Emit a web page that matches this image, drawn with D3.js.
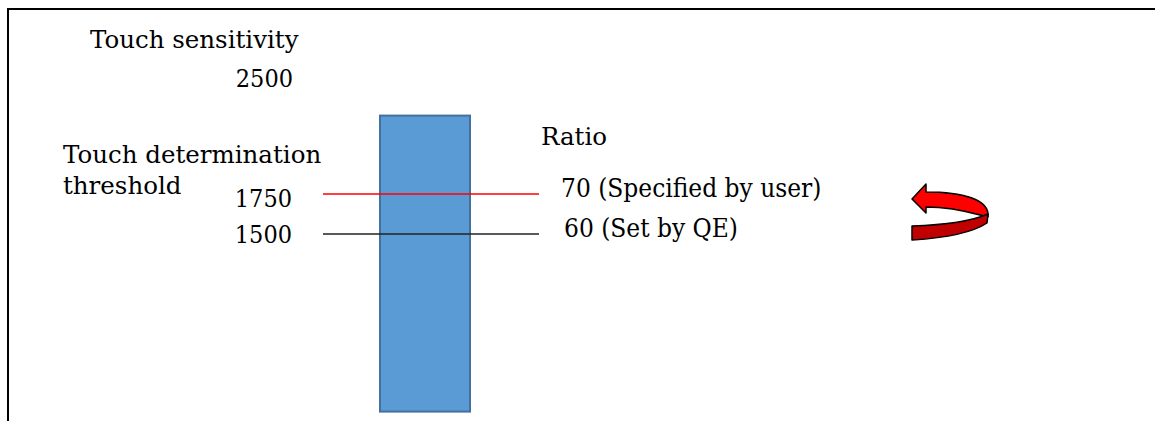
<!DOCTYPE html>
<html lang="en">
<head>
<meta charset="UTF-8">
<title>Touch sensitivity</title>
<script src="https://d3js.org/d3.v7.min.js"></script>
<style>
  body { margin: 0; background: #fff; }
  svg text { font-family: "DejaVu Serif", serif; font-size: 24.5px; fill: #000; }
  svg text.val { font-family: "DejaVu Serif Condensed", "DejaVu Serif", serif; font-stretch: condensed; font-size: 25px; }
  svg text.ratio { font-family: "DejaVu Serif Condensed", "DejaVu Serif", serif; font-stretch: condensed; font-size: 26px; }
</style>
</head>
<body>
<div id="chart"></div>
<script>
// values
const thresholds = [1750, 1500];
const thresholdColors = ["#ff0000", "#222222"];
const ratioLabels = ["70 (Specified by user)", "60 (Set by QE)"];
const sensitivityMax = 2500;
const barRange = [390, 2240];

const width = 1155, height = 421;

const svg = d3.select("#chart")
    .append("svg")
    .attr("width", width)
    .attr("height", height);

// frame (only top and left edges visible)
svg.append("path")
    .attr("d", "M8,421 V9 H1155")
    .attr("fill", "none")
    .attr("stroke", "#000")
    .attr("stroke-width", 2);

const y = d3.scaleLinear()
    .domain([1500, 1750])
    .range([234, 194]);

// bar
svg.append("rect")
    .attr("x", 380)
    .attr("width", 90)
    .attr("y", y(barRange[1]))
    .attr("height", y(barRange[0]) - y(barRange[1]))
    .attr("fill", "#5b9bd5")
    .attr("stroke", "#41719c")
    .attr("stroke-width", 2);

// threshold lines
svg.selectAll(".thr")
    .data(thresholds)
    .enter()
    .append("line")
    .attr("class", "thr")
    .attr("x1", 323)
    .attr("x2", 539)
    .attr("y1", d => y(d))
    .attr("y2", d => y(d))
    .attr("stroke", (d, i) => thresholdColors[i])
    .attr("stroke-width", 1.3);

// value labels on the left
svg.selectAll(".val")
    .data(thresholds)
    .enter()
    .append("text")
    .attr("class", "val")
    .attr("x", 292)
    .attr("y", (d, i) => y(d) + (i === 0 ? 13 : 9))
    .attr("text-anchor", "end")
    .text(d => d);

svg.append("text")
    .attr("class", "val")
    .attr("x", 293)
    .attr("y", y(sensitivityMax) + 13)
    .attr("text-anchor", "end")
    .text(sensitivityMax);

// ratio labels on the right
svg.selectAll(".ratio")
    .data(ratioLabels)
    .enter()
    .append("text")
    .attr("class", "ratio")
    .attr("x", (d, i) => i === 0 ? 561 : 564)
    .attr("y", (d, i) => y(thresholds[i]) + 3)
    .text(d => d);

svg.append("text").attr("x", 90).attr("y", 48).text("Touch sensitivity");
svg.append("text").attr("x", 63).attr("y", 163).text("Touch determination");
svg.append("text").attr("x", 63).attr("y", 194).text("threshold");
svg.append("text").attr("x", 541).attr("y", 145).text("Ratio");

// curved arrow
const arrow = svg.append("g")
    .attr("stroke", "#000")
    .attr("stroke-width", 1.5)
    .attr("stroke-linejoin", "round");

arrow.append("path")
    .attr("d", "M912,199 L926,184 L926,192 C962,192 990,199 988,217 C976,214 955,207 926,207 L926,213 Z")
    .attr("fill", "#ff0000");

arrow.append("path")
    .attr("d", "M912,226 C945,225 972,221 988,214 L987,223 C972,233 945,238 912,240 Z")
    .attr("fill", "#c00000");
</script>
</body>
</html>
